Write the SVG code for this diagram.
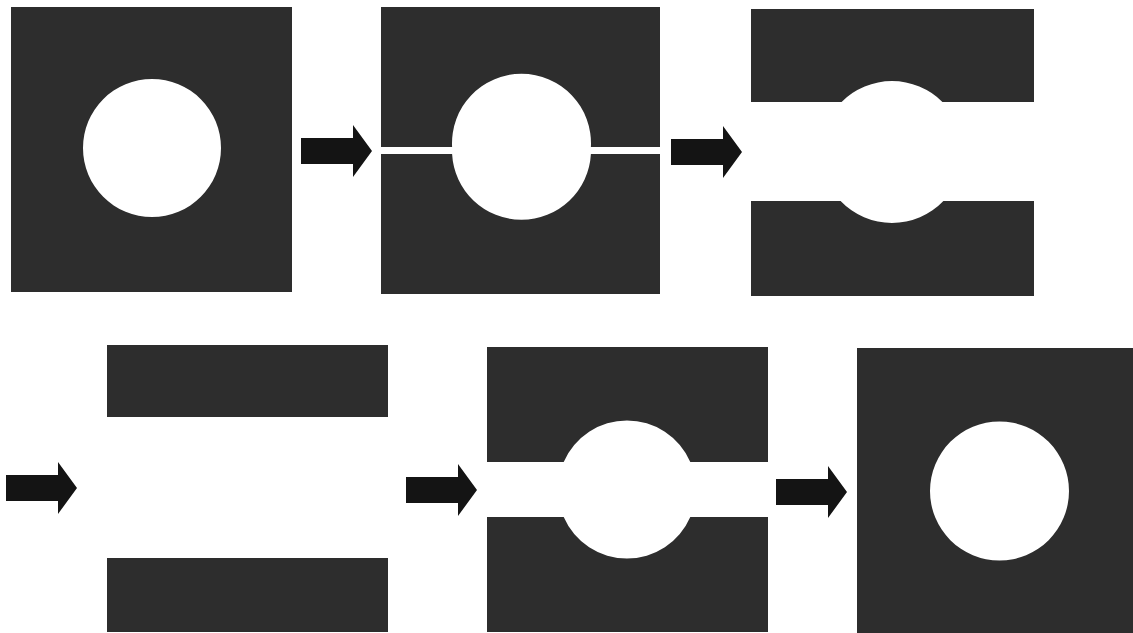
<svg xmlns="http://www.w3.org/2000/svg" xmlns:xlink="http://www.w3.org/1999/xlink" width="1133" height="633" viewBox="0 0 1133 633">
  <style>
    .block { fill: #2d2d2d; fill-rule: evenodd; }
    .arrow { fill: #141414; }
  </style>
  <defs>
    <polygon id="arrow" class="arrow" points="0,-13 52,-13 52,-26 71,0 52,26 52,13 0,13"/>
  </defs>
  <rect width="1133" height="633" fill="#ffffff"/>

  <g id="panel1">
    <path class="block" d="M11 7H292V292H11Z M83 148a69 69 0 1 0 138 0a69 69 0 1 0 -138 0Z"/>
  </g>
  <g id="panel2">
    <path class="block" d="M381 7H660V147H590.9A69.5 69.5 0 1 0 452.1 147H381Z"/>
    <path class="block" d="M381 154H452.1A69.5 69.5 0 0 0 590.9 154H660V294H381Z"/>
  </g>
  <g id="panel3">
    <path class="block" d="M751 9H1034V102H942.4A71 71 0 0 0 841.6 102H751Z"/>
    <path class="block" d="M751 201H840.6A71 71 0 0 0 943.4 201H1034V296H751Z"/>
  </g>
  <g id="panel4">
    <rect class="block" x="107" y="345" width="281" height="72"/>
    <rect class="block" x="107" y="558" width="281" height="74"/>
  </g>
  <g id="panel5">
    <path class="block" d="M487 347H768V462H690.3A69 69 0 0 0 563.7 462H487Z"/>
    <path class="block" d="M487 517H563.7A69 69 0 0 0 690.3 517H768V632H487Z"/>
  </g>
  <g id="panel6">
    <path class="block" d="M857 348H1133V633H857Z M930 491a69.5 69.5 0 1 0 139 0a69.5 69.5 0 1 0 -139 0Z"/>
  </g>

  <g id="connectors">
    <use xlink:href="#arrow" href="#arrow" x="301" y="151"/>
    <use xlink:href="#arrow" href="#arrow" x="671" y="152"/>
    <use xlink:href="#arrow" href="#arrow" x="6" y="488"/>
    <use xlink:href="#arrow" href="#arrow" x="406" y="490"/>
    <use xlink:href="#arrow" href="#arrow" x="776" y="492"/>
  </g>
</svg>
